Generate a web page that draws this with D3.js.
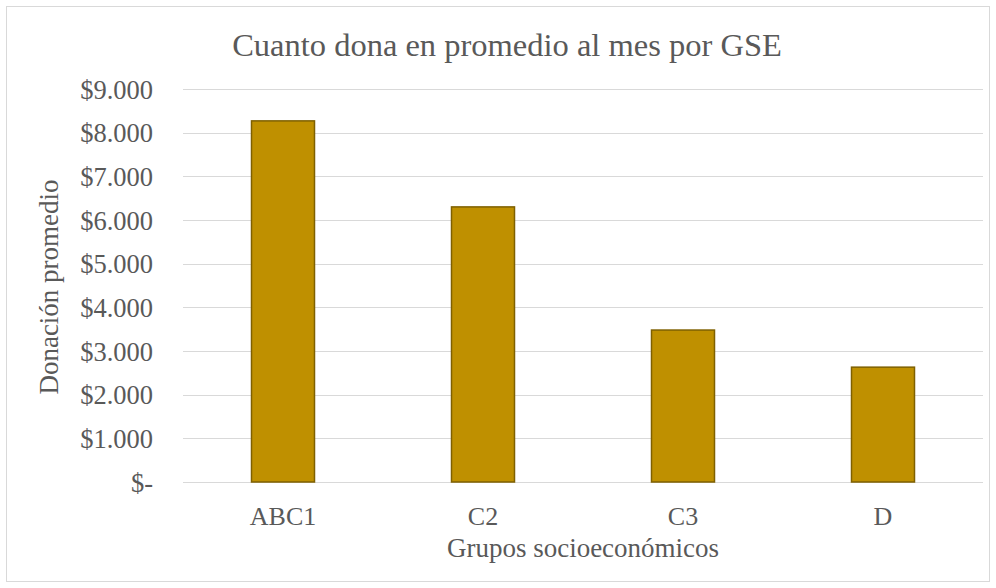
<!DOCTYPE html>
<html>
<head>
<meta charset="utf-8">
<script src="https://cdn.jsdelivr.net/npm/d3@7"></script>
<style>
    body { margin: 0; background: #fff; }
</style>
</head>
<body>
<div id="chart"></div>
<script>
var categories = ["ABC1", "C2", "C3", "D"];
var values = [8270, 6300, 3480, 2630];
var yTicks = [0, 1000, 2000, 3000, 4000, 5000, 6000, 7000, 8000, 9000];

var FONT = "'Liberation Serif', 'Times New Roman', Times, serif";
var W = 996, H = 588;
var margin = { top: 89, left: 183, right: 13, bottom: 106 };
var width = W - margin.left - margin.right,
    height = H - margin.top - margin.bottom;

var svg = d3.select("#chart")
    .append("svg")
    .attr("width", W)
    .attr("height", H);

// chart border
svg.append("rect")
    .attr("x", 6.5).attr("y", 6.5)
    .attr("width", W - 13).attr("height", H - 13)
    .attr("fill", "#fff")
    .attr("stroke", "#d9d9d9")
    .attr("stroke-width", 1);

var g = svg.append("g")
    .attr("transform", "translate(" + margin.left + "," + margin.top + ")");

var x = d3.scaleBand()
    .domain(categories)
    .range([0, width])
    .paddingInner(0.685)
    .paddingOuter(0.3425);

var y = d3.scaleLinear()
    .domain([0, 9000])
    .range([height, 0]);

function fmt(d) {
    if (d === 0) return "$-";
    return "$" + d3.format(",")(d).replace(/,/g, ".");
}

// gridlines
g.selectAll(".grid")
    .data(yTicks)
    .enter().append("line")
    .attr("class", "grid")
    .attr("x1", 0).attr("x2", width)
    .attr("y1", d => Math.round(y(d)) + 0.5)
    .attr("y2", d => Math.round(y(d)) + 0.5)
    .attr("stroke", "#d9d9d9")
    .attr("stroke-width", 1);

// y axis labels
var yAxis = g.append("g")
    .call(d3.axisLeft(y).tickValues(yTicks).tickFormat(fmt).tickSize(0).tickPadding(30));
yAxis.attr("font-family", null).attr("font-size", null);
yAxis.select(".domain").remove();
yAxis.selectAll("text")
    .style("font-family", FONT)
    .style("font-size", "26.5px")
    .attr("dy", "0.35em")
    .attr("fill", "#595959");

// bars
g.selectAll(".bar")
    .data(categories)
    .enter().append("rect")
    .attr("class", "bar")
    .attr("x", d => x(d))
    .attr("y", (d, i) => y(values[i]))
    .attr("width", x.bandwidth())
    .attr("height", (d, i) => height - y(values[i]))
    .attr("fill", "#bf9000")
    .attr("stroke", "#7f6000")
    .attr("stroke-width", 1.5);

// x axis labels
var xAxis = g.append("g")
    .attr("transform", "translate(0," + height + ")")
    .call(d3.axisBottom(x).tickSize(0).tickPadding(25));
xAxis.attr("font-family", null).attr("font-size", null);
xAxis.select(".domain").remove();
xAxis.selectAll("text")
    .style("font-family", FONT)
    .style("font-size", "26px")
    .attr("fill", "#595959");

// titles
svg.append("text")
    .attr("x", 507).attr("y", 56)
    .attr("text-anchor", "middle")
    .style("font-family", FONT)
    .style("font-size", "32.5px")
    .attr("fill", "#595959")
    .text("Cuanto dona en promedio al mes por GSE");

svg.append("text")
    .attr("x", 583).attr("y", 557)
    .attr("text-anchor", "middle")
    .style("font-family", FONT)
    .style("font-size", "27px")
    .attr("fill", "#595959")
    .text("Grupos socioeconómicos");

svg.append("text")
    .attr("transform", "translate(58,287) rotate(-90)")
    .attr("text-anchor", "middle")
    .style("font-family", FONT)
    .style("font-size", "27px")
    .attr("fill", "#595959")
    .text("Donación promedio");
</script>
</body>
</html>
